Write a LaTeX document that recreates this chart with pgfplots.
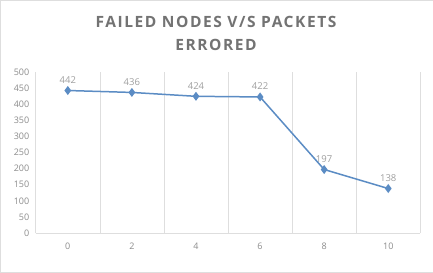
\documentclass[border=0pt]{standalone}
\usepackage{pgfplots}
\pgfplotsset{compat=1.18}
\usepackage{fontspec}
\setmainfont{Open Sans}
\newfontfamily\titlefont[LetterSpace=10]{Open Sans}
\definecolor{txt}{RGB}{140,140,140}
\definecolor{lbl}{RGB}{160,160,160}
\definecolor{ttl}{RGB}{115,115,115}
\definecolor{grd}{RGB}{222,222,222}
\definecolor{ln}{RGB}{91,140,196}
\begin{document}
\begin{tikzpicture}[x=1bp,y=1bp]
\draw[draw=grd,fill=white] (0.5,0.5) rectangle (432.5,272.5);
\node[text=ttl,font=\titlefont\bfseries\fontsize{15.5bp}{23bp}\selectfont,align=center] at (216,239) {FAILED NODES V/S PACKETS\\ERRORED};
\begin{axis}[
  at={(36bp,40bp)}, anchor=south west,
  scale only axis, width=384bp, height=161bp,
  xmin=-0.5, xmax=5.5, ymin=0, ymax=500,
  xtick={0,1,2,3,4,5}, xticklabels={0,2,4,6,8,10},
  minor xtick={-0.5,0.5,1.5,2.5,3.5,4.5,5.5},
  xminorgrids, minor grid style={draw=grd,line width=0.6pt},
  ytick={0,50,...,500},
  axis x line*=bottom, axis y line*=left,
  x axis line style={draw=grd,line width=0.6pt,-},
  y axis line style={draw=none},
  major tick length=0pt, minor tick length=0pt,
  tick label style={text=txt,font=\fontsize{9bp}{10bp}\selectfont},
  /pgf/number format/assume math mode=true,
  yticklabel style={xshift=-3bp},
  xticklabel style={yshift=-6bp},
  clip=false,
]
\addplot[color=ln, line width=1.5pt, mark=diamond*, mark size=3.3pt,
  nodes near coords, every node near coord/.style={text=lbl,font=\fontsize{9.5bp}{10bp}\selectfont,yshift=3bp}]
  coordinates {(0,442) (1,436) (2,424) (3,422) (4,197) (5,138)};
\end{axis}
\end{tikzpicture}
\end{document}
